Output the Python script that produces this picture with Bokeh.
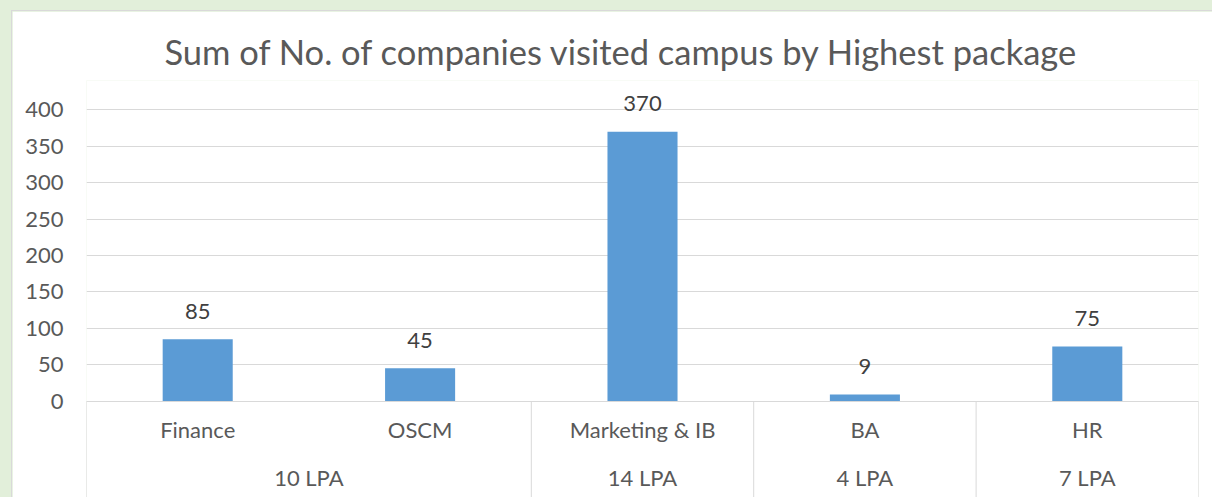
from bokeh.plotting import figure
from bokeh.models import FactorRange, Range1d, FixedTicker, ColumnDataSource
from bokeh.layouts import column
from bokeh.embed import file_html
from bokeh.resources import INLINE
from bokeh.core.properties import value

# ---- data ----
groups = ["10 LPA", "10 LPA", "14 LPA", "4 LPA", "7 LPA"]
specializations = ["Finance", "OSCM", "Marketing & IB", "BA", "HR"]
companies = [85, 45, 370, 9, 75]
y_ticks = [0, 50, 100, 150, 200, 250, 300, 350, 400]
title_text = "Sum of No. of companies visited campus by Highest package"

factors = list(zip(groups, specializations))
group_names = list(dict.fromkeys(groups))

FONT = "Lato"
TEXT = "#595959"
GRID = "#D9D9D9"
BAR = "#5B9BD5"
FS = "22px"

y_start, y_end = -132.6, 440.5

p = figure(
    width=1200, height=486,
    x_range=FactorRange(*factors, factor_padding=0, group_padding=0, range_padding=0),
    y_range=Range1d(y_start, y_end),
    x_axis_location=None,
    output_backend="svg", toolbar_location=None,
    min_border_left=74, min_border_right=14, min_border_top=69, min_border_bottom=0,
)
p.background_fill_color = "white"
p.border_fill_color = "white"
p.outline_line_color = None

p.title.text = title_text
p.title.text_font = FONT
p.title.text_font_size = "34.5px"
p.title.text_font_style = "normal"
p.title.text_color = TEXT
p.title.align = "left"
p.title.offset = 78
p.title.standoff = 18

p.yaxis.ticker = FixedTicker(ticks=y_ticks)
p.yaxis.axis_line_color = None
p.yaxis.major_tick_line_color = None
p.yaxis.minor_tick_line_color = None
p.yaxis.major_tick_out = 0
p.yaxis.major_label_standoff = 23
p.yaxis.major_label_text_font = FONT
p.yaxis.major_label_text_font_size = FS
p.yaxis.major_label_text_color = TEXT
p.ygrid.grid_line_color = GRID
p.ygrid.grid_line_width = 1
p.xgrid.visible = False

# bars
src = ColumnDataSource(dict(x=factors, top=companies, lab=[str(v) for v in companies]))
p.vbar(x="x", top="top", width=0.315, source=src, fill_color=BAR, line_color=None)
p.text(x="x", y="top", text="lab", source=src, y_offset=-28,
       text_align="center", text_baseline="middle",
       text_font=value(FONT), text_font_size=FS, text_color="#404040")

# category table separators
sep_x = []
for g in group_names:
    first = next(f for f in factors if f[0] == g)
    sep_x.append((first[0], first[1], -0.5))
sep_x.append((factors[-1][0], factors[-1][1], 0.5))
sep_src = ColumnDataSource(dict(x=sep_x, y0=[0] * len(sep_x), y1=[y_start] * len(sep_x)))
p.segment(x0="x", y0="y0", x1="x", y1="y1", source=sep_src, line_color=GRID, line_width=1)

# category labels
p.text(x=factors, y=[-39.5] * len(factors), text=specializations,
       text_align="center", text_baseline="middle",
       text_font=value(FONT), text_font_size=FS, text_color=TEXT)
p.text(x=group_names, y=[-105.0] * len(group_names), text=group_names,
       text_align="center", text_baseline="middle",
       text_font=value(FONT), text_font_size=FS, text_color=TEXT)

p.margin = (11, 0, 0, 12)
p.styles = {"box-shadow": "0 0 0 1px #D9D9D9"}
page = column(p, width=1212, height=497, styles={"background-color": "#E2EFDA"})

open("out.html", "w").write(file_html(page, INLINE))
